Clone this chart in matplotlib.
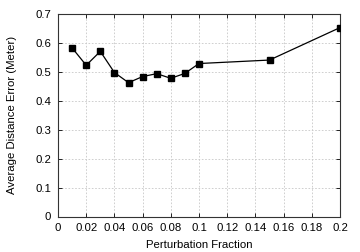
import matplotlib
matplotlib.use("Agg")
import matplotlib.pyplot as plt

plt.rcParams['font.family'] = ['Liberation Sans', 'DejaVu Sans']

x = [0.01, 0.02, 0.03, 0.04, 0.05, 0.06, 0.07, 0.08, 0.09, 0.1, 0.15, 0.2]
y = [0.582, 0.522, 0.570, 0.497, 0.462, 0.483, 0.493, 0.477, 0.494, 0.528, 0.540, 0.652]
xticks = [0, 0.02, 0.04, 0.06, 0.08, 0.1, 0.12, 0.14, 0.16, 0.18, 0.2]
xticklabels = ['0', '0.02', '0.04', '0.06', '0.08', '0.1', '0.12', '0.14', '0.16', '0.18', '0.2']
yticks = [0, 0.1, 0.2, 0.3, 0.4, 0.5, 0.6, 0.7]
yticklabels = ['0', '0.1', '0.2', '0.3', '0.4', '0.5', '0.6', '0.7']

fig = plt.figure(figsize=(3.6, 2.52), dpi=100)
ax = fig.add_axes([58/360, 1 - 216.5/252, (340-58)/360, (216.5-13.7)/252])
ax.plot(x, y, color='black', lw=0.9, marker='s', markersize=5, zorder=3)
ax.set_xlim(0, 0.2)
ax.set_ylim(0, 0.7)
ax.set_xticks(xticks)
ax.set_xticklabels(xticklabels)
ax.set_yticks(yticks)
ax.set_yticklabels(yticklabels)
ax.grid(True, color='#c8c8c8', linestyle=(0, (2, 2)), linewidth=0.6)
ax.tick_params(labelsize=8.2, direction='in', length=3, width=0.6, top=True, right=True, pad=5)
for s in ax.spines.values():
    s.set_linewidth(0.8)
    s.set_color('#333333')
ax.set_xlabel('Perturbation Fraction', fontsize=8.2, labelpad=5)
ax.set_ylabel('Average Distance Error (Meter)', fontsize=8.2, labelpad=13)
fig.savefig('out.png', dpi=100)
